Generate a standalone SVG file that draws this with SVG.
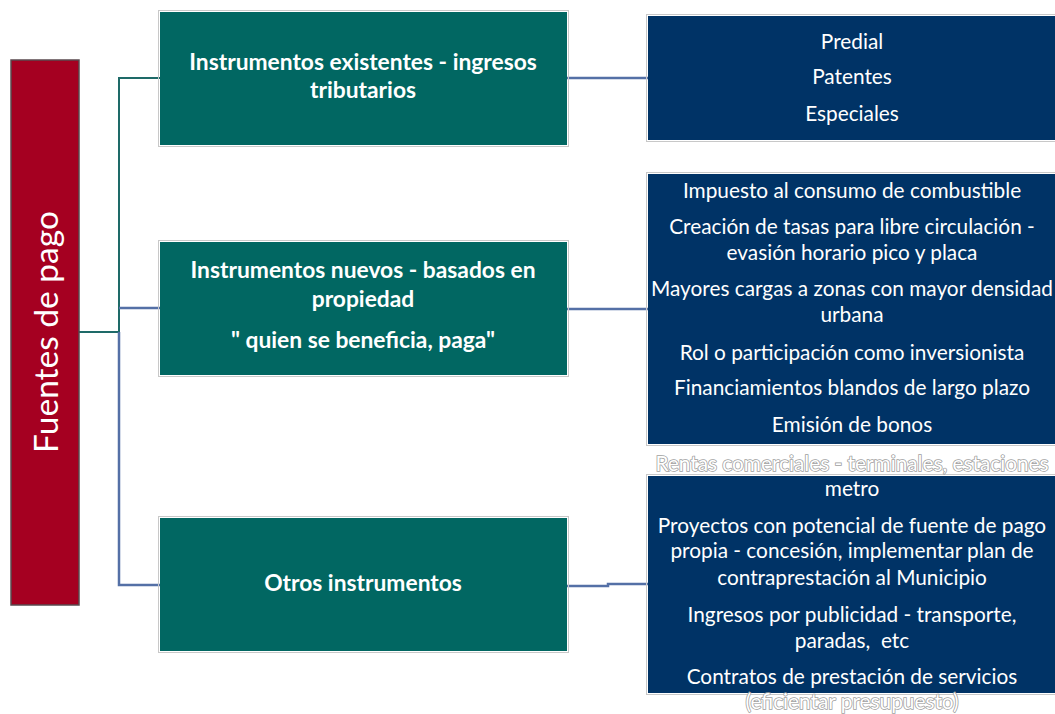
<svg xmlns="http://www.w3.org/2000/svg" width="1055" height="714" viewBox="0 0 1055 714">
<style>
.frame{fill:none;stroke:#c8c8c8;stroke-width:1}
.teal{fill:#016762}
.navy{fill:#003366}
.red{fill:#a50021;stroke:#5a4a4f;stroke-width:1.5}
.tt{font-family:Lato,"Open Sans",sans-serif;font-weight:bold;font-size:22.8px;fill:#ffffff;text-anchor:middle}
.bt{font-family:Lato,"Open Sans",sans-serif;font-size:20.8px;fill:#ffffff;text-anchor:middle}
.ov{font-family:Lato,"Open Sans",sans-serif;font-size:20.8px;fill:#ffffff;stroke:#a0a0a0;stroke-width:1.6;paint-order:stroke;text-anchor:middle}
.ct{fill:none;stroke:#1e6a68;stroke-width:2}
.cb{fill:none;stroke:#5470a6;stroke-width:2.5}
</style>
<rect width="1055" height="714" fill="#ffffff"/>
<g id="connectors">
<polyline class="ct" points="79,332 119,332 119,78 160,78"/>
<polyline class="cb" points="119,308 160,308"/>
<polyline class="cb" points="119,332 119,585 160,585"/>
<line class="cb" x1="567" y1="78" x2="648" y2="78"/>
<line class="cb" x1="567" y1="309" x2="648" y2="309"/>
<polyline class="cb" points="567,586 608,586 608,584 648,584"/>
</g>
<g id="fuentes">
<rect class="red" x="11" y="60" width="68" height="545"/>
<text transform="translate(45,332) rotate(-90)" font-family="Lato,'Open Sans',sans-serif" font-size="33.5" fill="#ffffff" text-anchor="middle" dominant-baseline="central">Fuentes de pago</text>
</g>
<g id="existentes">
<rect class="frame" x="158.5" y="10.5" width="410" height="136"/>
<rect class="teal" x="160" y="12" width="407" height="133"/>
<text class="tt" x="363" y="70">Instrumentos existentes - ingresos</text>
<text class="tt" x="363" y="98">tributarios</text>
</g>
<g id="nuevos">
<rect class="frame" x="158.5" y="240.5" width="410" height="136"/>
<rect class="teal" x="160" y="242" width="407" height="133"/>
<text class="tt" x="363" y="278">Instrumentos nuevos - basados en</text>
<text class="tt" x="363" y="307">propiedad</text>
<text class="tt" x="363" y="348">" quien se beneficia, paga"</text>
</g>
<g id="otros">
<rect class="frame" x="158.5" y="516.5" width="410" height="136"/>
<rect class="teal" x="160" y="518" width="407" height="133"/>
<text class="tt" x="363" y="591">Otros instrumentos</text>
</g>
<g id="tributarios">
<rect class="frame" x="646.5" y="14.5" width="412" height="127"/>
<rect class="navy" x="648" y="16" width="410" height="124"/>
<text class="bt" x="852" y="49">Predial</text>
<text class="bt" x="852" y="84">Patentes</text>
<text class="bt" x="852" y="121">Especiales</text>
</g>
<g id="nuevos-lista">
<rect class="frame" x="646.5" y="172.5" width="412" height="273"/>
<rect class="navy" x="648" y="174" width="410" height="270"/>
<text class="bt" x="852" y="198">Impuesto al consumo de combustible</text>
<text class="bt" x="852" y="234">Creación de tasas para libre circulación -</text>
<text class="bt" x="852" y="260">evasión horario pico y placa</text>
<text class="bt" x="852" y="296">Mayores cargas a zonas con mayor densidad</text>
<text class="bt" x="852" y="322">urbana</text>
<text class="bt" x="852" y="360">Rol o participación como inversionista</text>
<text class="bt" x="852" y="395">Financiamientos blandos de largo plazo</text>
<text class="bt" x="852" y="432">Emisión de bonos</text>
</g>
<g id="otros-lista">
<rect class="frame" x="646.5" y="474.5" width="412" height="220"/>
<rect class="navy" x="648" y="476" width="410" height="217"/>
<text class="ov" x="852" y="471">Rentas comerciales - terminales, estaciones</text>
<text class="bt" x="852" y="496">metro</text>
<text class="bt" x="852" y="533">Proyectos con potencial de fuente de pago</text>
<text class="bt" x="852" y="558">propia - concesión, implementar plan de</text>
<text class="bt" x="852" y="585">contraprestación al Municipio</text>
<text class="bt" x="852" y="622">Ingresos por publicidad - transporte,</text>
<text class="bt" x="852" y="648">paradas,&#160; etc</text>
<text class="bt" x="852" y="684">Contratos de prestación de servicios</text>
<text class="ov" x="852" y="709">(eficientar presupuesto)</text>
</g>
</svg>
